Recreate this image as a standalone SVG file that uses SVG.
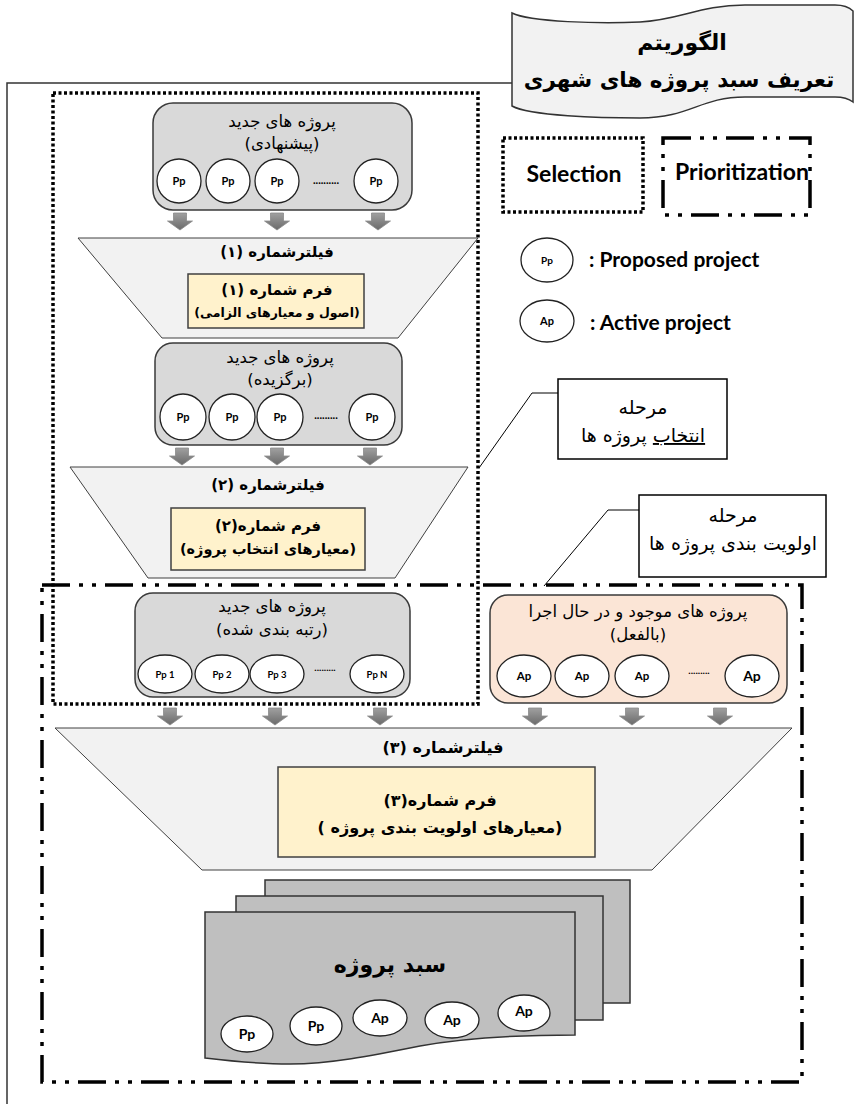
<svg xmlns="http://www.w3.org/2000/svg" width="854" height="1104" viewBox="0 0 854 1104">
<defs>
<linearGradient id="ag" x1="0" y1="0" x2="0" y2="1"><stop offset="0" stop-color="#a0a0a0"/><stop offset="1" stop-color="#6a6a6a"/></linearGradient>
<path id="arr" d="M-6.5,0 H6.5 V8 H12.5 L0,17 L-12.5,8 H-6.5 Z" fill="url(#ag)" stroke="#8a8a8a" stroke-width="0.8"/>
</defs>
<style>
.fa{font-family:"DejaVu Sans",sans-serif;direction:rtl;text-anchor:middle;fill:#000}
.b{font-weight:bold}
.en{font-family:Lato,"Open Sans",sans-serif;font-weight:bold;fill:#000}
.lab{font-family:Lato,"Open Sans",sans-serif;font-weight:bold;text-anchor:middle;fill:#000}
.node{fill:#d9d9d9;stroke:#3a3a3a;stroke-width:1.5}
.act{fill:#fbe5d6;stroke:#3a3a3a;stroke-width:1.5}
.c{fill:#fff;stroke:#222;stroke-width:1.3}
.trap{fill:#f2f2f2;stroke:#404040;stroke-width:1}
.form{fill:#fff2cc;stroke:#404040;stroke-width:1.5}
.page{fill:#bfbfbf;stroke:#333;stroke-width:1.5}
.box{fill:#fff;stroke:#000;stroke-width:1.5}
.dot{fill:none;stroke:#000;stroke-width:3.5;stroke-dasharray:3 2.5}
.dd{fill:none;stroke:#000;stroke-width:3.5;stroke-dasharray:28 9 4 9 4 9}
.ln{fill:none;stroke:#000;stroke-width:1}
.u{text-decoration:underline}
</style>
<rect width="854" height="1104" fill="#fff"/>
<path d="M512,83 H7 V1104" fill="none" stroke="#333" stroke-width="1.5"/>

<g id="title">
<path d="M512,13 C530,22 600,24 640,22 C680,20 700,5 745,5 L835,5 C845,5 850,8 853,11 V102 C848,98 840,97 835,97 L745,97 C700,97 690,118 640,118 C600,118 530,116 512,106 Z" fill="#f2f2f2" stroke="#333" stroke-width="1.5"/>
<text class="fa b" x="682" y="50" font-size="22">الگوریتم</text>
<text class="fa b" x="679" y="87" font-size="21.5">تعریف سبد پروژه های شهری</text>
</g>

<g id="selection-region"><rect class="dot" x="53" y="93" width="425" height="611"/></g>
<g id="prioritization-region"><rect class="dd" x="42" y="585" width="760" height="497"/></g>

<g id="legend">
<rect class="dot" x="503" y="138" width="140" height="74"/>
<text class="lab" x="574" y="182" font-size="23">Selection</text>
<rect class="dd" x="663" y="138" width="147" height="77"/>
<text class="en" x="675" y="180" font-size="23">Prioritization</text>
<ellipse class="c" cx="547" cy="260" rx="26" ry="22"/>
<text class="lab" x="547" y="264" font-size="10">Pp</text>
<text class="en" x="589" y="267" font-size="21">:  Proposed project</text>
<ellipse class="c" cx="547" cy="321" rx="27" ry="21"/>
<text class="lab" x="547" y="325" font-size="11">Ap</text>
<text class="en" x="590" y="330" font-size="21">:  Active  project</text>
</g>

<g id="connectors">
<use href="#arr" x="180" y="213"/><use href="#arr" x="277" y="213"/><use href="#arr" x="378" y="213"/>
<use href="#arr" x="182" y="448"/><use href="#arr" x="277" y="448"/><use href="#arr" x="370" y="448"/>
<use href="#arr" x="170" y="708"/><use href="#arr" x="275" y="708"/><use href="#arr" x="380" y="708"/>
<use href="#arr" x="535" y="708"/><use href="#arr" x="632" y="708"/><use href="#arr" x="720" y="708"/>
<path class="ln" d="M558,393 H532 L479,468"/>
<path class="ln" d="M639,510 H608 L544,586"/>
</g>

<g id="node-proposed">
<rect class="node" x="153" y="103" width="259" height="107" rx="20"/>
<text class="fa" x="282" y="127" font-size="16.5">پروژه های جدید</text>
<text class="fa" x="282" y="149" font-size="16.5">(پیشنهادی)</text>
<circle class="c" cx="179" cy="181" r="22"/><circle class="c" cx="228" cy="181" r="22"/><circle class="c" cx="277" cy="181" r="22"/><circle class="c" cx="376" cy="181" r="22"/>
<text class="lab" font-size="11"><tspan x="179" y="185">Pp</tspan><tspan x="228" y="185">Pp</tspan><tspan x="277" y="185">Pp</tspan><tspan x="376" y="185">Pp</tspan></text>
<text class="lab" x="326" y="184" font-size="11">..........</text>
</g>

<g id="filter-1">
<polygon class="trap" points="78,238 478,238 398,338 162,338"/>
<text class="fa b" x="277" y="257" font-size="15">فیلترشماره (۱)</text>
<rect class="form" x="188" y="274" width="176" height="54"/>
<text class="fa b" x="277" y="295" font-size="15">فرم شماره (۱)</text>
<text class="fa b" x="277" y="317" font-size="12.5">(اصول و معیارهای  الزامی)</text>
</g>

<g id="node-selected">
<rect class="node" x="155" y="343" width="247" height="102" rx="18"/>
<text class="fa" x="280" y="363" font-size="16.5">پروژه های جدید</text>
<text class="fa" x="280" y="385" font-size="16.5">(برگزیده)</text>
<ellipse class="c" cx="183" cy="417" rx="23" ry="23"/><ellipse class="c" cx="232" cy="417" rx="23" ry="23"/><ellipse class="c" cx="280" cy="417" rx="23" ry="23"/><ellipse class="c" cx="372" cy="417" rx="23" ry="23"/>
<text class="lab" font-size="11"><tspan x="183" y="421">Pp</tspan><tspan x="232" y="421">Pp</tspan><tspan x="280" y="421">Pp</tspan><tspan x="372" y="421">Pp</tspan></text>
<text class="lab" x="326" y="419" font-size="11">.........</text>
</g>

<g id="filter-2">
<polygon class="trap" points="70,467 468,467 395,578 148,578"/>
<text class="fa b" x="268" y="490" font-size="15">فیلترشماره (۲)</text>
<rect class="form" x="171" y="508" width="194" height="62"/>
<text class="fa b" x="268" y="531" font-size="15">فرم شماره(۲)</text>
<text class="fa b" x="268" y="554" font-size="14.5">(معیارهای انتخاب پروژه)</text>
</g>

<g id="stage-selection">
<rect class="box" x="558" y="379" width="169" height="80"/>
<text class="fa" x="643" y="414" font-size="19">مرحله</text>
<text class="fa" x="643" y="442" font-size="19"><tspan class="u">انتخاب</tspan> پروژه ها</text>
</g>

<g id="stage-prioritization">
<rect class="box" x="639" y="495" width="187" height="82"/>
<text class="fa" x="733" y="522" font-size="19">مرحله</text>
<text class="fa" x="733" y="550" font-size="19">اولویت بندی پروژه ها</text>
</g>

<g id="node-ranked">
<rect class="node" x="135" y="593" width="275" height="104" rx="18"/>
<text class="fa" x="272" y="612" font-size="16.5">پروژه های جدید</text>
<text class="fa" x="272" y="635" font-size="16.5">(رتبه بندی شده)</text>
<ellipse class="c" cx="165" cy="674" rx="27" ry="19"/><ellipse class="c" cx="222" cy="674" rx="27" ry="19"/><ellipse class="c" cx="277" cy="674" rx="27" ry="19"/><ellipse class="c" cx="377" cy="674" rx="27" ry="19"/>
<text class="lab" font-size="9.5"><tspan x="165" y="678">Pp 1</tspan><tspan x="222" y="678">Pp 2</tspan><tspan x="277" y="678">Pp 3</tspan><tspan x="377" y="678">Pp N</tspan></text>
<text class="lab" x="325" y="671" font-size="10">.........</text>
</g>

<g id="node-active">
<rect class="act" x="490" y="595" width="297" height="108" rx="18"/>
<text class="fa" x="638" y="617" font-size="16.5">پروژه های موجود و در حال اجرا</text>
<text class="fa" x="638" y="640" font-size="16.5">(بالفعل)</text>
<ellipse class="c" cx="524" cy="676" rx="27" ry="21"/><ellipse class="c" cx="582" cy="676" rx="27" ry="21"/><ellipse class="c" cx="642" cy="676" rx="27" ry="21"/><ellipse class="c" cx="752" cy="676" rx="27" ry="21"/>
<text class="lab" font-size="11.5"><tspan x="524" y="680">Ap</tspan><tspan x="582" y="680">Ap</tspan><tspan x="642" y="680">Ap</tspan><tspan x="752" y="681" font-size="14">Ap</tspan></text>
<text class="lab" x="699" y="674" font-size="10">.........</text>
</g>

<g id="filter-3">
<polygon class="trap" points="55,728 792,728 652,870 202,870"/>
<text class="fa b" x="443" y="753" font-size="16">فیلترشماره (۳)</text>
<rect class="form" x="278" y="767" width="317" height="90"/>
<text class="fa b" x="440" y="806" font-size="16">فرم شماره(۳)</text>
<text class="fa b" x="440" y="833" font-size="16">(معیارهای اولویت بندی پروژه )</text>
</g>

<g id="project-basket">
<rect class="page" x="265" y="880" width="365" height="123"/>
<rect class="page" x="236" y="896" width="367" height="124"/>
<path class="page" d="M205,912 H575 V1035 C520,1035 470,1037 420,1046 C370,1056 330,1064 290,1064 C260,1064 230,1061 205,1058 Z"/>
<text class="fa b" x="390" y="972" font-size="22">سبد پروژه</text>
<ellipse class="c" cx="247" cy="1034" rx="26" ry="18"/><ellipse class="c" cx="316" cy="1026" rx="26" ry="19"/><ellipse class="c" cx="380" cy="1018" rx="27" ry="18"/><ellipse class="c" cx="452" cy="1020" rx="27" ry="18"/><ellipse class="c" cx="524" cy="1013" rx="26" ry="18"/>
<text class="lab" font-size="14"><tspan x="247" y="1039">Pp</tspan><tspan x="316" y="1031">Pp</tspan><tspan x="380" y="1023">Ap</tspan><tspan x="452" y="1025">Ap</tspan><tspan x="524" y="1016">Ap</tspan></text>
</g>
</svg>
